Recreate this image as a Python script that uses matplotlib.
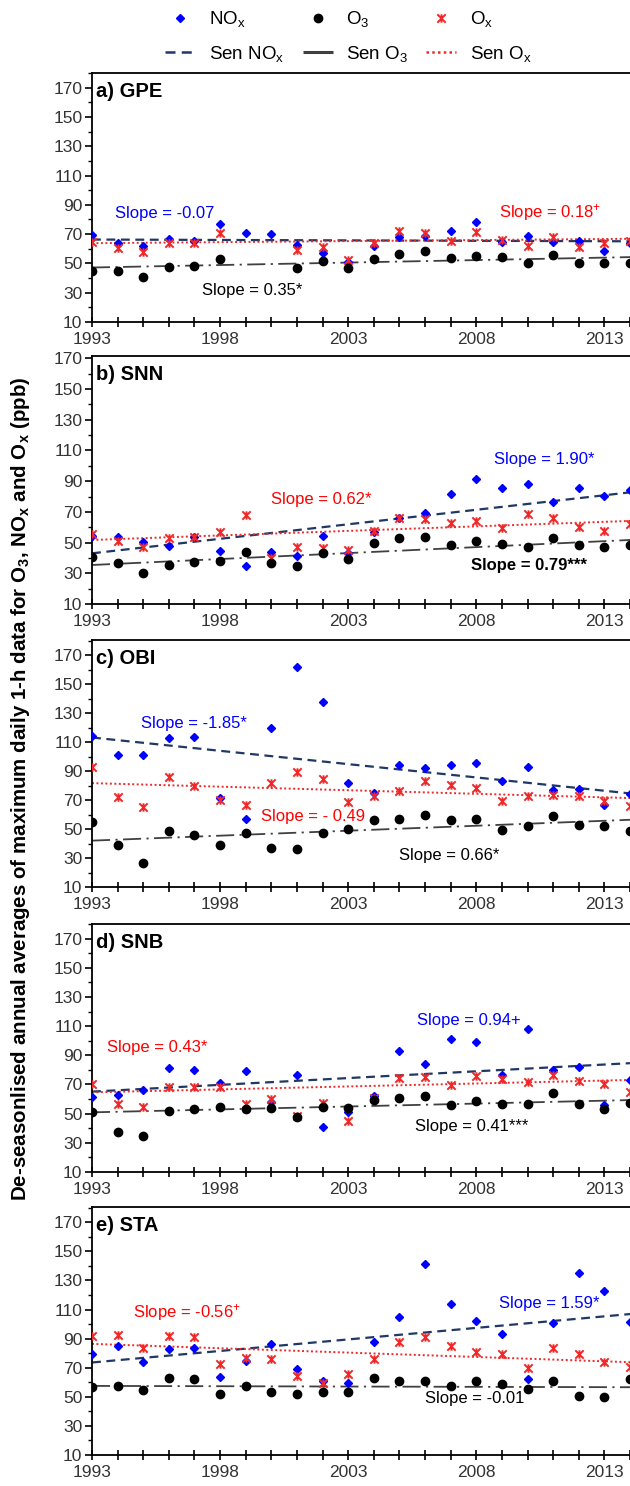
import numpy as np
import matplotlib
matplotlib.use('Agg')
import matplotlib.pyplot as plt
from matplotlib.lines import Line2D
from matplotlib.path import Path
from matplotlib.ticker import MultipleLocator

plt.rcParams['font.family'] = ['Liberation Sans', 'DejaVu Sans']
plt.rcParams['mathtext.fontset'] = 'custom'
plt.rcParams['mathtext.rm'] = 'Liberation Sans'
plt.rcParams['mathtext.it'] = 'Liberation Sans:italic'
plt.rcParams['mathtext.bf'] = 'Liberation Sans:bold'

years = np.arange(1993, 2015)
nan = np.nan

# a) GPE
nox_a = [69.5, 64, 62, 66.7, 65.6, 76.6, 70.6, 70, 62.6, 57, 51, 61.7, 68.3, 69, 72, 78.2, 64.5, 69, 64.9, 65, 58.7, 64]
o3_a = [45, 44.5, 40.8, 47.7, 48.4, 53, nan, nan, 47.2, 51.8, 46.7, 53, 56.4, 58.7, 53.4, 54.8, 54.6, 50.2, 55.7, 50, 50.6, 50.6]
ox_a = [64.7, 60.5, 57.5, 63.7, 63.7, 70.8, nan, nan, 59.1, 61, 52.3, 63.7, 71.8, 70.8, 65.6, 71.3, 66, 62, 67.9, 61.4, 64, 65]

# b) SNN
nox_b = [54.5, 53.9, 50.2, 48, 53.9, 44.8, 34.8, 44.1, 41.5, 54.5, 43, 57, 65.8, 69, 81.4, 91.2, 85.3, 88, 76.2, 85.8, 80.6, 84]
o3_b = [40.8, 36.5, 30.4, 35.2, 37.6, 38.2, 44.1, 37, 34.8, 43.5, 39.1, 49.5, 52.8, 53.4, 48.4, 51.3, 49.1, 46.9, 53.2, 48.4, 47.4, 48.4]
ox_b = [55.4, 51.3, 46.9, 53.2, 53.9, 57.1, 68, 40, 47.4, 46.7, 45.2, 57.8, 65.8, 65.2, 62.6, 64.3, 59.7, 68.4, 66.2, 60, 57.6, 62]

# c) OBI
nox_c = [114.4, 101, 101, 112.8, 113.2, 71.1, 56.9, 119.7, 162, 138, 81.7, 74.6, 94.1, 92.1, 94.4, 95.3, 82.9, 93, 77.1, 77.6, 66.6, 74]
o3_c = [55, 39.2, 26.3, 48.9, 45.9, 39.2, 47.2, 36.7, 36.2, 47, 50, 56.4, 56.9, 59.9, 56.2, 56.9, 49.5, 52.3, 59.2, 53, 51.8, 48.9]
ox_c = [93, 71.8, 64.9, 86.1, 79.9, 70.2, 66.8, 81.7, 89.1, 84.5, 68.4, 73, 76.4, 83.3, 80.3, 78, 69.5, 73, 73.7, 72.5, 69.5, 66]

# d) SNB
nox_d = [61.2, 62.8, 66.2, 81.6, 80, 71.3, 78.9, 57.7, 76.6, 41, 50.9, 62.1, 93.1, 84.1, 101.4, 99.1, 76.6, 108, 80, 82.3, 55.9, 73.1]
o3_d = [50.9, 37.1, 34.8, 51.8, 52.9, 54.8, 53.2, 54.1, 47.4, 54.8, 53.6, 59.3, 60.5, 62.3, 55.9, 58.9, 56.4, 56.4, 63.9, 56.6, 53.2, 57]
ox_d = [70.1, 56.6, 54.8, 68, 68.5, 68, 56.6, 59.8, 48.3, 57, 45.1, 61, 74.3, 75.4, 69.7, 75.9, 73.6, 72, 76.6, 72.7, 70.4, 65.1]

# e) STA
nox_e = [79.3, 84.6, 73.8, 82.8, 83.9, 63.3, 74.7, 86.2, 69, 61.2, 59.8, 88, 104.8, 141.5, 114, 101.8, 93.1, 62.1, 100.7, 135.1, 122.9, 101.4]
o3_e = [56.6, 57.5, 54.8, 62.8, 62.1, 52, 57.1, 53.6, 52, 53.6, 53.6, 62.8, 61, 61, 57.1, 61.2, 58.9, 55.2, 61.2, 50.9, 49.7, 62.3]
ox_e = [91.5, 92.6, 83.5, 91.5, 91, 72.7, 76.6, 76.1, 64.4, 59.3, 65.8, 75.9, 88, 91, 84.6, 80.5, 79.3, 70.1, 83.5, 79.3, 73.6, 70.8]

# Sen trend lines, values at 1993 and 2014
sen_years = [1993, 2014]
sen_nox = {'a': [66.3, 65.1], 'b': [43, 82.7], 'c': [113.2, 74.6], 'd': [65.1, 84.6], 'e': [73.6, 106.9]}
sen_o3 = {'a': [47.2, 54.3], 'b': [35.4, 51.7], 'c': [42, 56.4], 'd': [50.9, 59.3], 'e': [57.5, 56.6]}
sen_ox = {'a': [63.8, 66.8], 'b': [51.7, 64.1], 'c': [81.7, 71.4], 'd': [64.6, 73.1], 'e': [86.4, 73.8]}

panels = ['a', 'b', 'c', 'd', 'e']
titles = ['a) GPE', 'b) SNN', 'c) OBI', 'd) SNB', 'e) STA']
nox = [nox_a, nox_b, nox_c, nox_d, nox_e]
o3 = [o3_a, o3_b, o3_c, o3_d, o3_e]
ox = [ox_a, ox_b, ox_c, ox_d, ox_e]
ytops = [180, 171.5, 180.5, 180, 180.5]

# slope annotations: (text, x, y, color, bold)
notes = {
    'a': [('Slope = -0.07', 1993.9, 84, 'blue', False),
          ('Slope = 0.18$^{+}$', 2008.9, 84.6, 'red', False),
          ('Slope = 0.35*', 1997.3, 31.6, 'black', False)],
    'b': [('Slope = 1.90*', 2008.7, 104.4, 'blue', False),
          ('Slope = 0.62*', 2000.0, 78.2, 'red', False),
          ('Slope = 0.79***', 2007.8, 34.8, 'black', True)],
    'c': [('Slope = -1.85*', 1994.9, 122.9, 'blue', False),
          ('Slope = - 0.49', 1999.6, 58.5, 'red', False),
          ('Slope = 0.66*', 2005.0, 31.6, 'black', False)],
    'd': [('Slope = 0.94+', 2005.7, 114, 'blue', False),
          ('Slope = 0.43*', 1993.6, 95.6, 'red', False),
          ('Slope = 0.41***', 2005.6, 41, 'black', False)],
    'e': [('Slope = -0.56$^{+}$', 1994.6, 108, 'red', False),
          ('Slope = 1.59*', 2008.9, 114.4, 'blue', False),
          ('Slope = -0.01', 2006.0, 49, 'black', False)],
}

blue = '#0000ff'
red = '#f02828'
navy = '#1f3864'
grey = '#404040'
tick_col = '#333333'

# star marker: X with a vertical bar (Excel style)
star = Path([(-1, -1), (1, 1), (-1, 1), (1, -1), (0, -1), (0, 1)],
            [Path.MOVETO, Path.LINETO, Path.MOVETO, Path.LINETO, Path.MOVETO, Path.LINETO])

W, H = 630, 1486
fig = plt.figure(figsize=(W / 100, H / 100), dpi=100)

tops = [73, 356, 640, 924, 1207]
bots = [322, 604, 887, 1172, 1455]
left = 92

for i, p in enumerate(panels):
    ax = fig.add_axes([left / W, 1 - bots[i] / H, (W - left) / W, (bots[i] - tops[i]) / H])
    ax.plot(sen_years, sen_nox[p], color=navy, lw=1.6, dashes=(4, 2.5), zorder=2)
    ax.plot(sen_years, sen_o3[p], color=grey, lw=1.3, dashes=(10, 3, 1.2, 3), zorder=2)
    ax.plot(sen_years, sen_ox[p], color=red, lw=1.4, dashes=(1, 1.3), zorder=2)
    ax.plot(years, nox[i], ls='none', marker='D', ms=4.2, color=blue, zorder=3)
    ax.plot(years, ox[i], ls='none', marker=star, ms=6, mew=1.4, color=red, zorder=4)
    ax.plot(years, o3[i], ls='none', marker='o', ms=6, color='black', zorder=5)

    ax.set_xlim(1993, 2014)
    ax.set_ylim(10, ytops[i])
    ax.set_yticks(np.arange(10, 171, 20))
    ax.yaxis.set_minor_locator(MultipleLocator(10))
    ax.set_xticks(years)
    ax.set_xticklabels([str(y) if (y - 1993) % 5 == 0 else '' for y in years])
    ax.tick_params(axis='x', direction='inout', length=7, width=1.2, pad=4,
                   labelsize=12.5, labelcolor=tick_col)
    ax.tick_params(axis='y', which='major', direction='out', length=5, width=1.2,
                   labelsize=12.5, labelcolor=tick_col, pad=2)
    ax.tick_params(axis='y', which='minor', direction='out', length=3, width=1.0)
    ax.spines['right'].set_visible(False)
    for s in ['left', 'top', 'bottom']:
        ax.spines[s].set_linewidth(1.3)

    ax.text(0.008, 0.927, titles[i], transform=ax.transAxes, fontsize=14.5,
            fontweight='bold', va='center', ha='left')
    for txt, x, y, c, b in notes[p]:
        ax.text(x, y, txt, color=c, fontsize=12, va='center', ha='left',
                fontweight='bold' if b else 'normal')

fig.text(21 / W, 1 - 789 / H,
         'De-seasonlised annual averages of maximum daily 1-h data for '
         'O$_\\mathbf{3}$, NO$_\\mathbf{x}$ and O$_\\mathbf{x}$ (ppb)',
         rotation=90, va='center', ha='center', fontsize=14.8, fontweight='bold')

handles = [
    Line2D([], [], ls='none', marker='D', ms=4.2, color=blue),
    Line2D([], [], color=navy, lw=1.8, dashes=(4, 2.5)),
    Line2D([], [], ls='none', marker='o', ms=6, color='black'),
    Line2D([], [], color=grey, lw=2.2, dashes=(10, 3)),
    Line2D([], [], ls='none', marker=star, ms=6, mew=1.4, color=red),
    Line2D([], [], color=red, lw=1.8, dashes=(1, 1.3)),
]
labels = ['NO$_\\mathrm{x}$', 'Sen NO$_\\mathrm{x}$', 'O$_\\mathrm{3}$', 'Sen O$_\\mathrm{3}$',
          'O$_\\mathrm{x}$', 'Sen O$_\\mathrm{x}$']
fig.legend(handles, labels, ncol=3, loc='upper center', bbox_to_anchor=(0.553, 1.005),
           frameon=False, fontsize=13.5, handlelength=1.6, columnspacing=1.0,
           handletextpad=0.7, labelspacing=0.75)

fig.savefig('out.png', dpi=100)
